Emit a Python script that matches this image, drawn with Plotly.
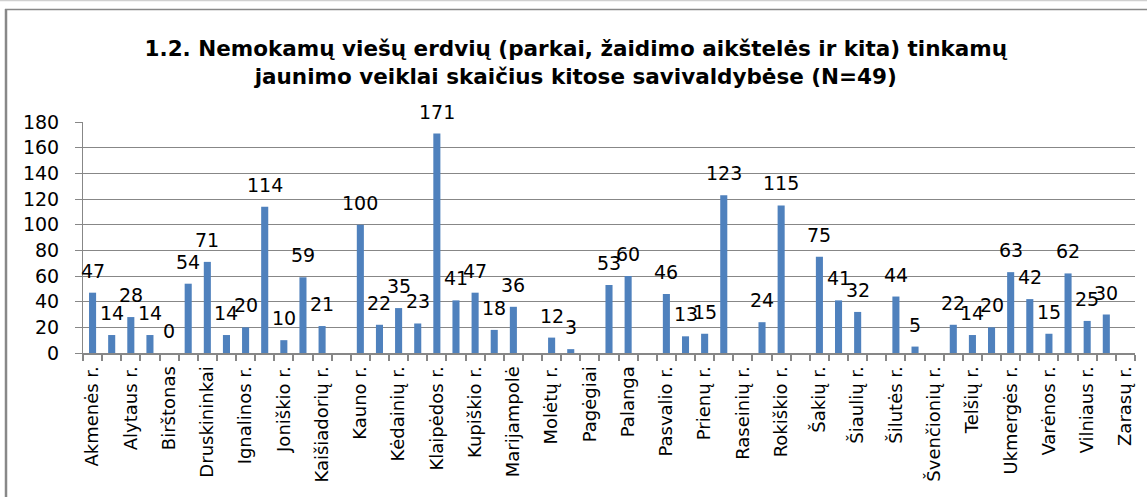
import plotly.graph_objects as go

categories = [
    "Akmenės r.", "Alytaus m.", "Alytaus r.", "Anykščių r.", "Birštonas", "Biržų r.",
    "Druskininkai", "Elektrėnai", "Ignalinos r.", "Jonavos r.", "Joniškio r.", "Jurbarko r.",
    "Kaišiadorių r.", "Kalvarijos", "Kauno r.", "Kazlų Rūdos", "Kėdainių r.", "Kelmės r.",
    "Klaipėdos r.", "Kretingos r.", "Kupiškio r.", "Lazdijų r.", "Marijampolė", "Mažeikių r.",
    "Molėtų r.", "Neringa", "Pagėgiai", "Pakruojo r.", "Palanga", "Panevėžio r.",
    "Pasvalio r.", "Plungės r.", "Prienų r.", "Radviliškio r.", "Raseinių r.", "Rietavas",
    "Rokiškio r.", "Skuodo r.", "Šakių r.", "Šalčininkų r.", "Šiaulių r.", "Šilalės r.",
    "Šilutės r.", "Širvintų r.", "Švenčionių r.", "Tauragės r.", "Telšių r.", "Trakų r.",
    "Ukmergės r.", "Utenos r.", "Varėnos r.", "Vilkaviškio r.", "Vilniaus r.", "Visaginas",
    "Zarasų r.",
]

values = [
    47, 14, 28, 14, 0, 54,
    71, 14, 20, 114, 10, 59,
    21, None, 100, 22, 35, 23,
    171, 41, 47, 18, 36, None,
    12, 3, None, 53, 60, None,
    46, 13, 15, 123, None, 24,
    115, None, 75, 41, 32, None,
    44, 5, None, 22, 14, 20,
    63, 42, 15, 62, 25, 30,
    None,
]

tick_text = [c if i % 2 == 0 else "" for i, c in enumerate(categories)]
y_ticks = [0, 20, 40, 60, 80, 100, 120, 140, 160, 180]

title_text = ("1.2. Nemokamų viešų erdvių (parkai, žaidimo aikštelės ir kita) tinkamų<br>"
              "jaunimo veiklai skaičius kitose savivaldybėse (N=49)")

W, H = 1147, 497
L, R, T, B = 83, 12, 122, 144
GRID = "#878787"

fig = go.Figure()
fig.add_trace(go.Bar(
    x=categories, y=values,
    marker=dict(color="#4F81BD", line=dict(width=0)),
    hoverinfo="x+y",
))

annotations = []
for c, v in zip(categories, values):
    if v is None:
        continue
    annotations.append(dict(
        x=c, y=v, xref="x", yref="y", text=str(v), showarrow=False,
        yanchor="middle", xanchor="center", yshift=22,
        font=dict(family="DejaVu Sans", size=19, color="#000000"),
    ))

pw = W - L - R
ph = H - T - B
def px_x(p):
    return (p - L) / pw
def px_y(p):
    return (H - B - p) / ph

shapes = [
    dict(type="line", xref="paper", yref="paper",
         x0=px_x(0), x1=px_x(W), y0=px_y(0.5), y1=px_y(0.5),
         line=dict(color="#d0d0d0", width=1.5)),
    dict(type="line", xref="paper", yref="paper",
         x0=px_x(5), x1=px_x(W + 5), y0=px_y(9.5), y1=px_y(9.5),
         line=dict(color="#888888", width=1.5)),
    dict(type="line", xref="paper", yref="paper",
         x0=px_x(6), x1=px_x(6), y0=px_y(9), y1=px_y(H + 5),
         line=dict(color="#888888", width=2.5)),
]

fig.update_layout(
    width=W, height=H,
    margin=dict(l=L, r=R, t=T, b=B, autoexpand=False),
    paper_bgcolor="white", plot_bgcolor="white",
    showlegend=False,
    bargap=0.63,
    title=dict(text=title_text, x=0.502, xref="container", xanchor="center",
               y=1 - 56 / H, yref="container", yanchor="middle",
               font=dict(family="DejaVu Sans", size=21.5, color="#000000", weight="bold")),
    annotations=annotations,
    shapes=shapes,
    xaxis=dict(
        type="category", categoryorder="array", categoryarray=categories,
        tickmode="array", tickvals=categories, ticktext=tick_text,
        tickson="boundaries", ticks="outside", ticklen=6, tickcolor=GRID, tickwidth=1.5,
        tickangle=-90, tickfont=dict(family="DejaVu Sans", size=18, color="#000000"),
        ticklabelstandoff=4,
        showline=True, linecolor=GRID, linewidth=2, showgrid=False,
        range=[-0.5, len(categories) - 0.5],
    ),
    yaxis=dict(
        range=[0, 180], tickmode="array", tickvals=y_ticks,
        ticks="outside", ticklen=7, tickcolor=GRID, tickwidth=1,
        showgrid=True, gridcolor=GRID, gridwidth=1,
        showline=True, linecolor=GRID, linewidth=1, zeroline=False,
        tickfont=dict(family="DejaVu Sans", size=19, color="#000000"),
        ticklabelstandoff=12,
    ),
)

fig.write_html("out.html", config={"displayModeBar": False},
               post_script="document.body.style.margin='0';document.body.style.overflow='hidden';")
